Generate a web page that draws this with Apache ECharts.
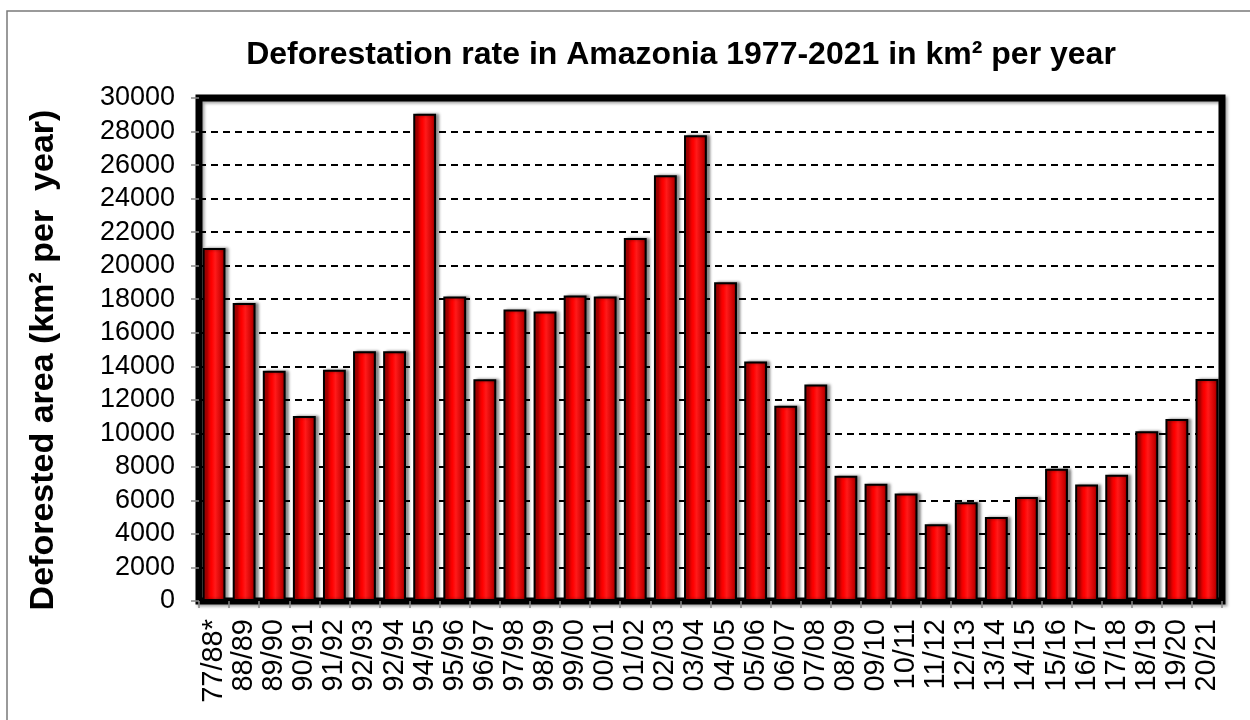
<!DOCTYPE html>
<html>
<head>
<meta charset="utf-8">
<script src="https://cdn.jsdelivr.net/npm/echarts@6/dist/echarts.min.js"></script>
<style>
  html, body { margin: 0; padding: 0; background: #fff; }
  #chart { width: 1250px; height: 720px; }
</style>
</head>
<body>
<div id="chart"></div>
<script>
// periods (x axis)
const periods = ['77/88*', '88/89', '89/90', '90/91', '91/92', '92/93', '92/94', '94/95', '95/96', '96/97',
  '97/98', '98/99', '99/00', '00/01', '01/02', '02/03', '03/04', '04/05', '05/06', '06/07',
  '07/08', '08/09', '09/10', '10/11', '11/12', '12/13', '13/14', '14/15', '15/16', '16/17',
  '17/18', '18/19', '19/20', '20/21']

// deforested area, km² per year
const deforested = [21050, 17770, 13730, 11030, 13786, 14896, 14896, 29059, 18161, 13227,
  17383, 17259, 18226, 18165, 21651, 25396, 27772, 19014, 14286, 11651,
  12911, 7464, 7000, 6418, 4571, 5891, 5012, 6207, 7893, 6947,
  7536, 10129, 10851, 13235]

const yMin = 0
const yMax = 30000
const yStep = 2000

const chart = echarts.init(document.getElementById('chart'), null, { renderer: 'canvas' })
const font = 'Arial, "Liberation Sans", sans-serif'

chart.setOption({
  backgroundColor: '#fff',
  animation: false,
  title: {
    text: 'Deforestation rate in Amazonia 1977-2021 in km² per year',
    left: 676,
    textAlign: 'center',
    top: 34,
    textStyle: { fontFamily: font, fontWeight: 'bold', fontSize: 32, color: '#000' }
  },
  graphic: [
    {
      type: 'rect',
      shape: { x: 7, y: 11, width: 1400, height: 900 },
      style: { fill: 'none', stroke: '#7a7a7a', lineWidth: 1.5 },
      silent: true
    },
    {
      type: 'text',
      left: 27,
      top: 'middle',
      rotation: Math.PI / 2,
      style: {
        text: 'Deforested area (km² per  year)',
        font: 'bold 34px ' + font,
        fill: '#000'
      }
    }
  ],
  grid: {
    left: 199,
    right: 28,
    top: 98,
    bottom: 119,
    show: true,
    borderColor: '#000',
    borderWidth: 7,
    shadowColor: 'rgba(0,0,0,0.35)',
    shadowBlur: 3,
    shadowOffsetX: 2,
    shadowOffsetY: 2,
    backgroundColor: 'rgba(255,255,255,0)'
  },
  xAxis: {
    type: 'category',
    data: periods,
    axisLine: { show: false },
    axisTick: { show: true, length: 7, lineStyle: { color: '#888', width: 1.5 } },
    axisLabel: {
      rotate: 90,
      interval: 0,
      margin: 18,
      fontFamily: font,
      fontSize: 29,
      color: '#000'
    }
  },
  yAxis: {
    type: 'value',
    min: yMin,
    max: yMax,
    interval: yStep,
    axisLine: { show: false },
    axisTick: { show: true, length: 8, lineStyle: { color: '#888', width: 1.5 } },
    axisLabel: {
      margin: 24,
      fontFamily: font,
      fontSize: 27,
      color: '#000',
      formatter: v => String(v)
    },
    splitLine: { show: true, lineStyle: { color: '#000', width: 2, type: [7, 5] } }
  },
  series: [
    {
      type: 'bar',
      data: deforested,
      barWidth: '76%',
      itemStyle: {
        color: new echarts.graphic.LinearGradient(0, 0, 1, 0, [
          { offset: 0, color: '#6a0000' },
          { offset: 0.15, color: '#d00000' },
          { offset: 0.4, color: '#ff0000' },
          { offset: 0.55, color: '#ff1a1a' },
          { offset: 0.85, color: '#c80000' },
          { offset: 1, color: '#5a0000' }
        ]),
        borderColor: '#000',
        borderWidth: 2,
        shadowColor: 'rgba(0,0,0,0.45)',
        shadowBlur: 3,
        shadowOffsetX: 3,
        shadowOffsetY: 0
      }
    }
  ]
})
</script>
</body>
</html>
